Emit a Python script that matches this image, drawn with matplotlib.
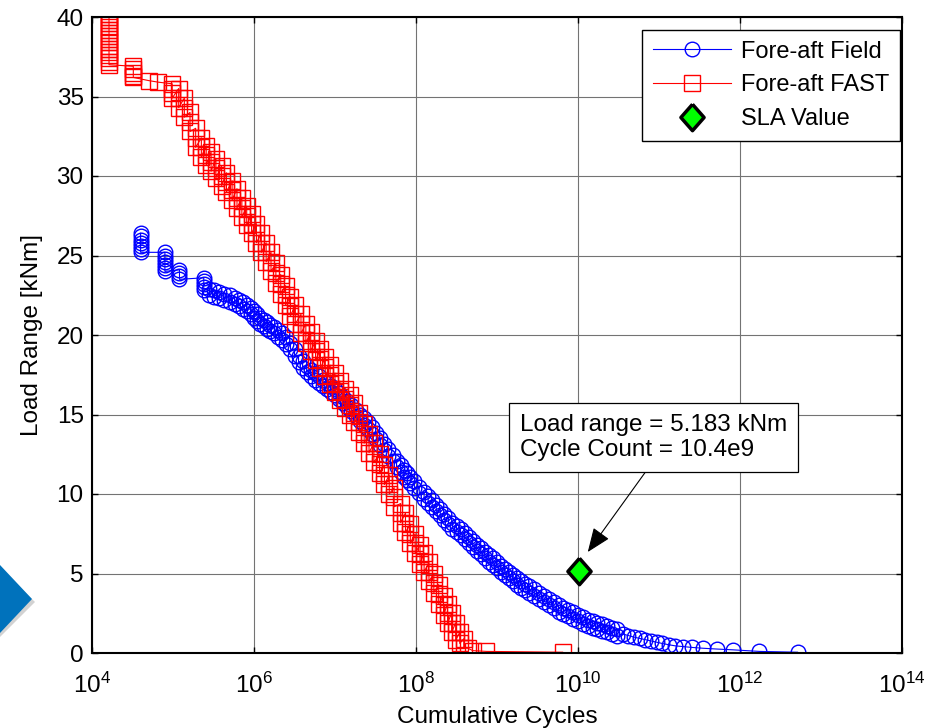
import matplotlib

matplotlib.use("Agg")

import matplotlib.pyplot as plt
import numpy as np
from matplotlib.patches import Polygon
from matplotlib.ticker import NullLocator

plt.rcParams["font.family"] = ["Liberation Sans", "DejaVu Sans"]
plt.rcParams["mathtext.fontset"] = "custom"
plt.rcParams["mathtext.rm"] = "Liberation Sans"

# --- data (cycles stored as log10) ---

field_log_cycles = [
    4.60, 4.60, 4.60, 4.60, 4.60, 4.60, 4.60,
    4.90, 4.90, 4.90, 4.90, 4.90, 4.90, 4.90,
    5.08, 5.08, 5.08, 5.08,
    5.38, 5.38, 5.38, 5.38, 5.38,
    5.45, 5.45, 5.51, 5.51, 5.57, 5.57, 5.63, 5.63, 5.70, 5.70,
    5.76, 5.76, 5.81, 5.81, 5.86, 5.86, 5.91, 5.91, 5.96, 5.96,
    6.00, 6.00, 6.04, 6.04, 6.08, 6.08, 6.12, 6.12, 6.16, 6.16,
    6.20, 6.20, 6.25, 6.25, 6.30, 6.30, 6.35, 6.35, 6.40, 6.40,
    6.45, 6.45, 6.50, 6.50, 6.55, 6.55, 6.60, 6.60, 6.65, 6.65,
    6.70, 6.70, 6.75, 6.75, 6.80, 6.80, 6.85, 6.85, 6.90, 6.90,
    6.95, 6.95, 7.00, 7.00, 7.05, 7.05, 7.10, 7.10, 7.15, 7.15,
    7.20, 7.20, 7.26, 7.26, 7.31, 7.31, 7.36, 7.36, 7.41, 7.41,
    7.46, 7.46, 7.51, 7.51, 7.56, 7.56, 7.61, 7.61, 7.66, 7.66,
    7.71, 7.71, 7.76, 7.76, 7.81, 7.81, 7.85, 7.85, 7.89, 7.89,
    7.93, 7.93, 7.98, 7.98, 8.04, 8.04, 8.10, 8.10, 8.15, 8.15,
    8.20, 8.20, 8.25, 8.25, 8.30, 8.30, 8.35, 8.35, 8.40, 8.40,
    8.45, 8.45, 8.50, 8.50, 8.55, 8.55, 8.60, 8.60, 8.65, 8.65,
    8.70, 8.70, 8.75, 8.75, 8.80, 8.80, 8.85, 8.85, 8.90, 8.90,
    8.95, 8.95, 9.00, 9.00, 9.05, 9.05, 9.10, 9.10, 9.15, 9.15,
    9.20, 9.20, 9.25, 9.25, 9.30, 9.30, 9.35, 9.35, 9.40, 9.40,
    9.46, 9.46, 9.52, 9.52, 9.58, 9.58, 9.64, 9.64, 9.70, 9.70,
    9.76, 9.76, 9.82, 9.82, 9.88, 9.88, 9.94, 9.94, 10.00, 10.00,
    10.06, 10.06, 10.12, 10.12, 10.18, 10.18, 10.24, 10.24,
    10.30, 10.30, 10.36, 10.36, 10.42, 10.42, 10.48, 10.48,
    10.55, 10.62, 10.69, 10.76, 10.83, 10.90, 10.97, 11.04,
    11.12, 11.20, 11.30, 11.41, 11.54, 11.71, 11.91, 12.24, 12.71,
]

field_load_range = [
    26.4, 26.2, 26.0, 25.8, 25.6, 25.4, 25.2,
    25.2, 25.0, 24.8, 24.6, 24.4, 24.2, 24.0,
    24.1, 23.9, 23.7, 23.5,
    23.6, 23.4, 23.2, 23.0, 22.8,
    22.9, 22.5, 22.8, 22.4, 22.7, 22.3, 22.6, 22.2, 22.5, 22.1,
    22.35, 21.95, 22.2, 21.8, 22.05, 21.65, 21.9, 21.5, 21.7, 21.3,
    21.5, 21.1, 21.3, 20.9, 21.1, 20.7, 20.95, 20.55, 20.8, 20.4,
    20.65, 20.25, 20.5, 20.1, 20.3, 19.9, 20.1, 19.7, 19.85, 19.45,
    19.5, 19.1, 19.1, 18.7, 18.7, 18.3, 18.35, 17.95, 18.05, 17.65,
    17.8, 17.4, 17.6, 17.2, 17.4, 17.0, 17.2, 16.8, 17.0, 16.6,
    16.8, 16.4, 16.6, 16.2, 16.35, 15.95, 16.1, 15.7, 15.85, 15.45,
    15.6, 15.2, 15.3, 14.9, 15.0, 14.6, 14.75, 14.35, 14.5, 14.1,
    14.2, 13.8, 13.85, 13.45, 13.5, 13.1, 13.15, 12.75, 12.8, 12.4,
    12.45, 12.05, 12.1, 11.7, 11.8, 11.4, 11.5, 11.1, 11.3, 10.9,
    11.1, 10.7, 10.8, 10.4, 10.45, 10.05, 10.1, 9.7, 9.85, 9.45,
    9.6, 9.2, 9.3, 8.9, 9.05, 8.65, 8.75, 8.35, 8.5, 8.1,
    8.2, 7.8, 8.0, 7.6, 7.8, 7.4, 7.55, 7.15, 7.3, 6.9,
    7.05, 6.65, 6.8, 6.4, 6.6, 6.2, 6.35, 5.95, 6.15, 5.75,
    5.95, 5.55, 5.75, 5.35, 5.5, 5.1, 5.3, 4.9, 5.1, 4.7,
    4.9, 4.5, 4.7, 4.3, 4.5, 4.1, 4.35, 3.95, 4.2, 3.8,
    4.0, 3.6, 3.8, 3.4, 3.6, 3.2, 3.4, 3.0, 3.2, 2.8,
    3.0, 2.6, 2.85, 2.45, 2.7, 2.3, 2.55, 2.15, 2.4, 2.0,
    2.25, 1.85, 2.1, 1.7, 2.0, 1.6, 1.9, 1.5,
    1.8, 1.4, 1.7, 1.3, 1.6, 1.2, 1.5, 1.1,
    1.2, 1.1, 1.0, 0.92, 0.84, 0.76, 0.68, 0.6,
    0.52, 0.45, 0.4, 0.35, 0.3, 0.25, 0.2, 0.1, 0.05,
]

fast_log_cycles = [
    4.21, 4.21, 4.21, 4.21, 4.21, 4.21, 4.21, 4.21, 4.21,
    4.21, 4.21, 4.21, 4.21, 4.21, 4.21, 4.21, 4.21,
    4.51, 4.51, 4.51, 4.51, 4.51,
    4.70, 4.82,
    4.99, 4.99, 4.99, 4.99,
    5.07, 5.07, 5.07, 5.14, 5.14, 5.14, 5.21, 5.21, 5.21,
    5.28, 5.28, 5.28, 5.35, 5.35, 5.35, 5.41, 5.41, 5.41,
    5.47, 5.47, 5.47, 5.53, 5.53, 5.53, 5.60, 5.60, 5.60,
    5.66, 5.66, 5.66, 5.73, 5.73, 5.73, 5.79, 5.79, 5.79,
    5.85, 5.85, 5.85, 5.91, 5.91, 5.91, 5.97, 5.97, 5.97,
    6.03, 6.03, 6.03, 6.09, 6.09, 6.09, 6.15, 6.15, 6.15,
    6.21, 6.21, 6.21, 6.27, 6.27, 6.27, 6.33, 6.33, 6.33,
    6.39, 6.39, 6.39, 6.45, 6.45, 6.45, 6.51, 6.51, 6.51,
    6.58, 6.58, 6.58, 6.64, 6.64, 6.64, 6.70, 6.70, 6.70,
    6.76, 6.76, 6.76, 6.82, 6.82, 6.82, 6.88, 6.88, 6.88,
    6.94, 6.94, 6.94, 7.00, 7.00, 7.00, 7.06, 7.06, 7.06,
    7.12, 7.12, 7.12, 7.18, 7.18, 7.18, 7.24, 7.24, 7.24,
    7.30, 7.30, 7.30, 7.36, 7.36, 7.36, 7.42, 7.42, 7.42,
    7.48, 7.48, 7.48, 7.55, 7.55, 7.55, 7.61, 7.61, 7.61,
    7.67, 7.67, 7.67, 7.73, 7.73, 7.73, 7.81, 7.81, 7.81,
    7.87, 7.87, 7.87, 7.93, 7.93, 7.93, 7.99, 7.99, 7.99,
    8.05, 8.05, 8.05, 8.10, 8.10, 8.10, 8.16, 8.16, 8.16,
    8.22, 8.22, 8.22, 8.28, 8.28, 8.28, 8.34, 8.34, 8.34,
    8.39, 8.39, 8.39, 8.44, 8.44, 8.44, 8.49, 8.49, 8.49,
    8.54, 8.54, 8.59, 8.59,
    8.64, 8.70, 8.87, 9.81,
]

fast_load_range = [
    40.2, 40.0, 39.8, 39.6, 39.4, 39.2, 39.0, 38.8, 38.6,
    38.4, 38.2, 38.0, 37.8, 37.6, 37.4, 37.2, 37.0,
    36.9, 36.7, 36.5, 36.3, 36.2,
    36.0, 35.9,
    35.8, 35.5, 35.2, 34.9,
    35.5, 34.9, 34.3, 34.9, 34.3, 33.7, 34.0, 33.4, 32.8,
    33.0, 32.4, 31.8, 32.4, 31.8, 31.2, 31.9, 31.3, 30.7,
    31.5, 30.9, 30.3, 31.1, 30.5, 29.9, 30.6, 30.0, 29.4,
    30.2, 29.6, 29.0, 29.7, 29.1, 28.5, 29.2, 28.6, 28.0,
    28.6, 28.0, 27.4, 28.1, 27.5, 26.9, 27.6, 27.0, 26.4,
    27.0, 26.4, 25.8, 26.4, 25.8, 25.2, 25.8, 25.2, 24.6,
    25.2, 24.6, 24.0, 24.5, 23.9, 23.3, 23.8, 23.2, 22.6,
    23.1, 22.5, 21.9, 22.4, 21.8, 21.2, 21.9, 21.3, 20.7,
    21.3, 20.7, 20.1, 20.7, 20.1, 19.5, 20.2, 19.6, 19.0,
    19.6, 19.0, 18.4, 19.1, 18.5, 17.9, 18.6, 18.0, 17.4,
    18.1, 17.5, 16.9, 17.6, 17.0, 16.4, 17.1, 16.5, 15.9,
    16.6, 16.0, 15.4, 16.2, 15.6, 15.0, 15.7, 15.1, 14.5,
    15.1, 14.5, 13.9, 14.4, 13.8, 13.2, 13.8, 13.2, 12.6,
    13.2, 12.6, 12.0, 12.5, 11.9, 11.3, 11.8, 11.2, 10.6,
    11.2, 10.6, 10.0, 10.4, 9.8, 9.2, 9.4, 8.8, 8.2,
    8.8, 8.2, 7.6, 8.1, 7.5, 6.9, 7.5, 6.9, 6.3,
    6.8, 6.2, 5.6, 6.3, 5.7, 5.1, 5.7, 5.1, 4.5,
    5.0, 4.4, 3.8, 4.3, 3.7, 3.1, 3.6, 3.0, 2.4,
    3.1, 2.5, 1.9, 2.5, 1.9, 1.3, 1.9, 1.3, 0.8,
    1.3, 0.6, 0.9, 0.3,
    0.3, 0.15, 0.1, 0.05,
]

sla_cycles = 10.4e9
sla_load_range = 5.183

x_tick_exponents = [4, 6, 8, 10, 12, 14]
y_ticks = [0, 5, 10, 15, 20, 25, 30, 35, 40]

field_cycles = 10 ** np.array(field_log_cycles)
fast_cycles = 10 ** np.array(fast_log_cycles)

# slightly taller-than-wide diamond, like the MATLAB one
diamond = [(0, 1), (0.88, 0), (0, -1), (-0.88, 0), (0, 1)]

# --- figure ---

fig = plt.figure(figsize=(9.35, 7.28), dpi=100)
ax = fig.add_axes([92 / 935, 1 - 653 / 728, 810 / 935, 636 / 728])

ax.plot(
    field_cycles,
    field_load_range,
    color="blue",
    linewidth=0.8,
    marker="o",
    markersize=10.5,
    markerfacecolor="none",
    markeredgewidth=1.0,
    label="Fore-aft Field",
)

ax.plot(
    fast_cycles,
    fast_load_range,
    color="red",
    linewidth=0.8,
    marker="s",
    markersize=11,
    markerfacecolor="none",
    markeredgewidth=1.0,
    label="Fore-aft FAST",
)

ax.plot(
    [sla_cycles],
    [sla_load_range],
    linestyle="none",
    marker=diamond,
    markersize=19,
    markerfacecolor="#00ff00",
    markeredgecolor="black",
    markeredgewidth=2.5,
    label="SLA Value",
    zorder=5,
)

ax.annotate(
    "Load range = %.3f kNm\nCycle Count = 10.4e9" % sla_load_range,
    xy=(1.32e10, 6.35),
    xytext=(1.9e9, 13.55),
    ha="left",
    va="center",
    fontsize=17.5,
    linespacing=1.2,
    bbox=dict(boxstyle="square,pad=0.45", facecolor="white",
              edgecolor="black", linewidth=0.9),
    arrowprops=dict(arrowstyle="-|>,head_length=1.5,head_width=0.6",
                    color="black", linewidth=0.8, shrinkA=0, shrinkB=0,
                    mutation_scale=10, relpos=(0.5, 0.0)),
    zorder=6,
)

ax.set_xscale("log")
ax.set_xlim(1e4, 1e14)
ax.set_ylim(0, 40)

ax.set_xticks(
    [10.0 ** e for e in x_tick_exponents],
    labels=[r"$\mathregular{10^{%d}}$" % e for e in x_tick_exponents],
)
ax.xaxis.set_minor_locator(NullLocator())
ax.set_yticks(y_ticks)

ax.tick_params(direction="in", length=4, width=1, top=True, right=True,
               labelsize=17.5, colors="black")
ax.tick_params(axis="x", pad=14)
ax.tick_params(axis="y", pad=6)

ax.grid(True, color="0.45", linewidth=0.8)
ax.set_axisbelow(True)

for spine in ax.spines.values():
    spine.set_linewidth(1.5)
    spine.set_color("black")

ax.set_xlabel("Cumulative Cycles", fontsize=17.5, labelpad=6)
ax.set_ylabel("Load Range [kNm]", fontsize=17.5, labelpad=10)

legend = ax.legend(
    loc="upper right",
    bbox_to_anchor=(900 / 935, 1 - 30 / 728),
    bbox_transform=fig.transFigure,
    fontsize=17,
    fancybox=False,
    framealpha=1,
    edgecolor="black",
    borderaxespad=0,
    borderpad=0.45,
    labelspacing=0.5,
    handlelength=3.3,
    handletextpad=0.45,
)
legend.get_frame().set_linewidth(1.0)

# blue slide arrow peeking in at the left edge
shadow = Polygon(
    [(0, 1 - 568 / 728), (35 / 935, 1 - 602 / 728), (0, 1 - 637 / 728)],
    closed=True, transform=fig.transFigure,
    facecolor="0.75", edgecolor="none", alpha=0.7,
)
arrow = Polygon(
    [(0, 1 - 565 / 728), (32 / 935, 1 - 599 / 728), (0, 1 - 633 / 728)],
    closed=True, transform=fig.transFigure,
    facecolor="#0072BC", edgecolor="none",
)
fig.patches.append(shadow)
fig.patches.append(arrow)

fig.savefig("out.png", dpi=100)
plt.close(fig)
